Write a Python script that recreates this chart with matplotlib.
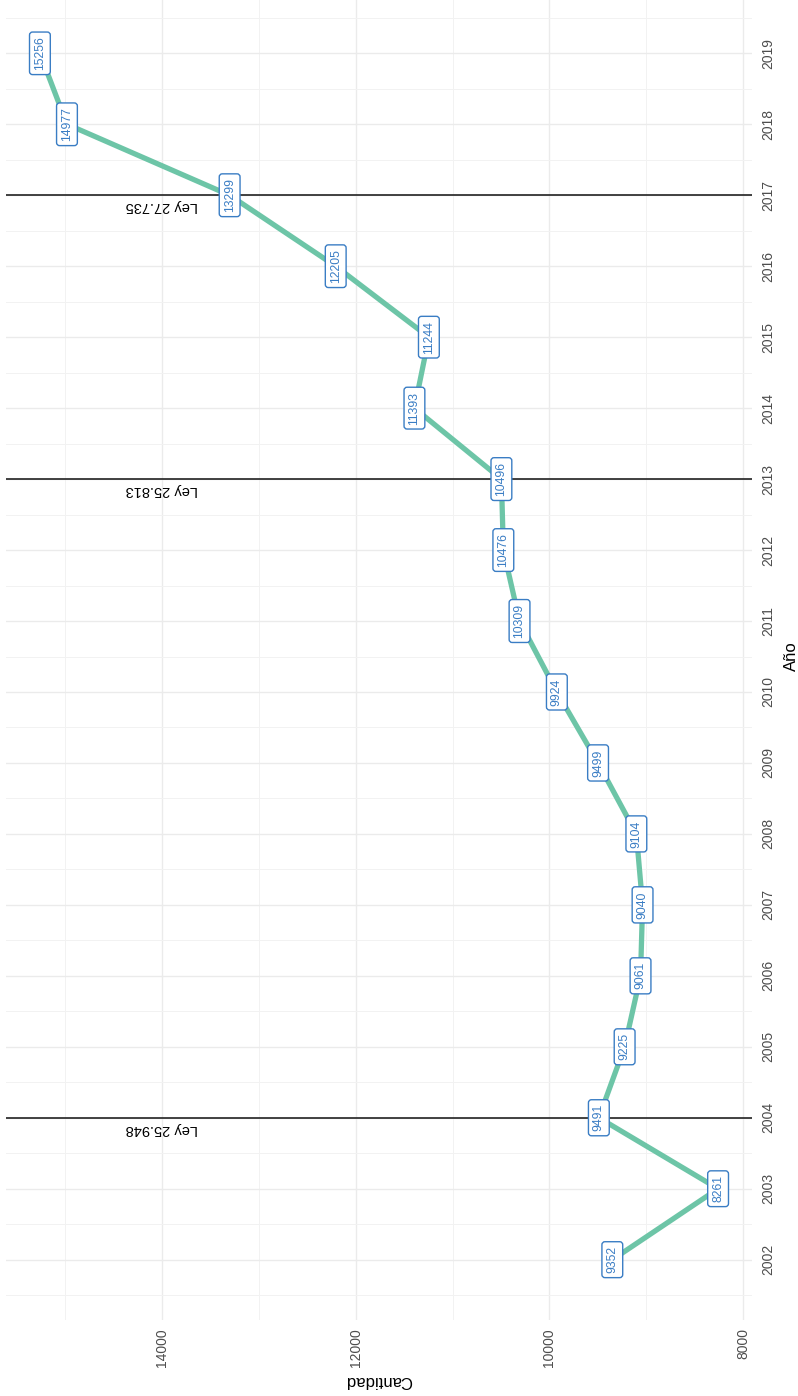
import matplotlib
matplotlib.use("Agg")
import matplotlib.pyplot as plt
from matplotlib.ticker import FixedLocator

plt.rcParams['font.family'] = ['Liberation Sans', 'DejaVu Sans']

# ---- data ----
years = list(range(2002, 2020))
cantidad = [9352, 8261, 9491, 9225, 9061, 9040, 9104, 9499, 9924,
            10309, 10476, 10496, 11393, 11244, 12205, 13299, 14977, 15256]
law_years = [2004, 2013, 2017]
law_labels = ["Ley 25.948", "Ley 25.813", "Ley 27.735"]
cantidad_ticks = [8000, 10000, 12000, 14000]
cantidad_minor = [9000, 11000, 13000, 15000]

W, H = 798, 1396
fig = plt.figure(figsize=(W / 100, H / 100), dpi=100)
fig.patch.set_facecolor('white')

# axes placement in pixels (left, right, top, bottom from top)
px_l, px_r, px_t, px_b = 6, 752, -7, 1320
ax = fig.add_axes([px_l / W, (H - px_b) / H, (px_r - px_l) / W, (px_b - px_t) / H])
ax.set_facecolor('white')

rng = max(cantidad) - min(cantidad)
ax.set_xlim(max(cantidad) + 0.05 * rng, min(cantidad) - 0.05 * rng)
ax.set_ylim(min(years) - 0.85, max(years) + 0.85)

ax.xaxis.set_major_locator(FixedLocator(cantidad_ticks))
ax.xaxis.set_minor_locator(FixedLocator(cantidad_minor))
ax.yaxis.set_major_locator(FixedLocator(years))
ax.yaxis.set_minor_locator(FixedLocator([y + 0.5 for y in [years[0] - 1] + years]))

ax.grid(True, which='major', color='#EBEBEB', lw=1.0, zorder=0)
ax.grid(True, which='minor', color='#F2F2F2', lw=0.7, zorder=0)
ax.set_axisbelow(True)
for s in ax.spines.values():
    s.set_visible(False)

ax.yaxis.tick_right()
ax.yaxis.set_label_position('right')
ax.tick_params(axis='both', which='both', length=0)
ax.tick_params(axis='x', pad=6, labelsize=10, labelcolor='#4D4D4D', labelrotation=90)
ax.tick_params(axis='y', pad=7, labelsize=10, labelcolor='#4D4D4D', labelrotation=90)
ax.set_xticklabels([str(v) for v in cantidad_ticks])
ax.set_yticklabels([str(y) for y in years], va='center')

ax.set_xlabel('Cantidad', fontsize=12, rotation=180, labelpad=4, color='black')
ax.set_ylabel('Año', fontsize=12, rotation=90, labelpad=6, color='black')

# law reference lines
for ly, lt in zip(law_years, law_labels):
    ax.axhline(ly, color='#222222', lw=1.2, zorder=2)
    ax.annotate(lt, xy=(14000, ly), xytext=(0, -3), textcoords='offset points',
                rotation=180, ha='center', va='top', fontsize=10.5, color='black',
                zorder=3)

# main line
ax.plot(cantidad, years, color='#6DC5A7', lw=3.8, solid_capstyle='butt', zorder=4)

# labels
for c, y in zip(cantidad, years):
    ax.text(c, y, str(c), rotation=90, ha='center', va='center', fontsize=8.8,
            color='#3A7DC4', zorder=5,
            bbox=dict(boxstyle='round,pad=0.36,rounding_size=0.25', fc='white',
                      ec='#3A7DC4', lw=1.0))

fig.savefig('out.png', dpi=100, facecolor='white')
